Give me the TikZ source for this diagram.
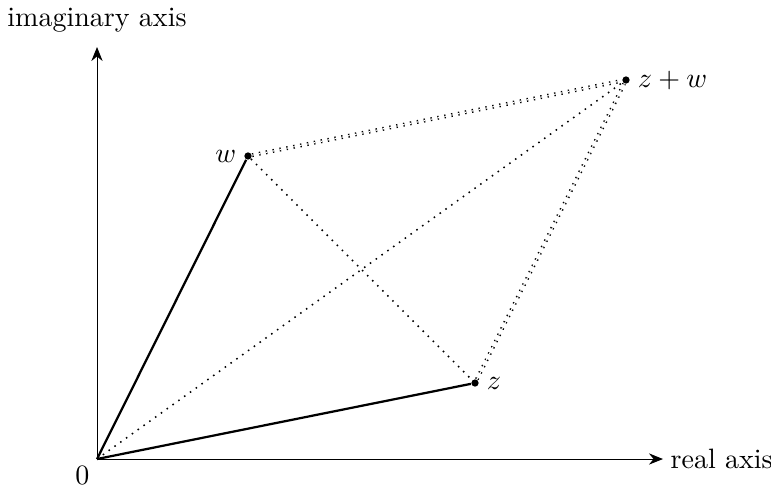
\documentclass[tikz,border=0pt]{standalone}
\usetikzlibrary{arrows.meta}
\begin{document}
\begin{tikzpicture}[x=0.357pt,y=-0.357pt,
  axis/.style={-{Stealth[length=5pt,width=4pt]}, line width=0.35pt},
  vec/.style={line width=0.8pt},
  dots/.style={dotted, line width=0.55pt},
  ddots/.style={dotted, double, double distance=0.4pt, line width=0.5pt},
  pt/.style={circle, fill, inner sep=0pt, minimum size=2.6pt}]
\useasboundingbox (0,0) rectangle (771,489);
\coordinate (O) at (97,459);
\coordinate (xend) at (663,459);
\coordinate (yend) at (97,47);
\node[pt] (w) at (248,156) {};
\node[pt] (z) at (475,383) {};
\node[pt] (zw) at (626,80) {};
\draw[axis] (O) -- (xend);
\draw[axis] (O) -- (yend);
\node[anchor=west, inner sep=2.5pt] (xl) at (xend) {real axis};
\node[anchor=south, inner sep=5pt] (yl) at (yend) {imaginary axis};
\node[anchor=north east, inner sep=2.5pt] (zero) at (O) {$0$};
\draw[vec] (O) -- (w);
\draw[vec] (O) -- (z);
\draw[dots] (O) -- (zw);
\draw[dots] (w) -- (z);
\draw[ddots] (w) -- (zw);
\draw[ddots] (z) -- (zw);
\node[anchor=east, inner sep=4pt] (wl) at (w) {$w$};
\node[anchor=west, inner sep=4pt] (zl) at (z) {$z$};
\node[anchor=west, inner sep=4pt] (zwl) at (zw) {$z+w$};
\end{tikzpicture}
\end{document}
